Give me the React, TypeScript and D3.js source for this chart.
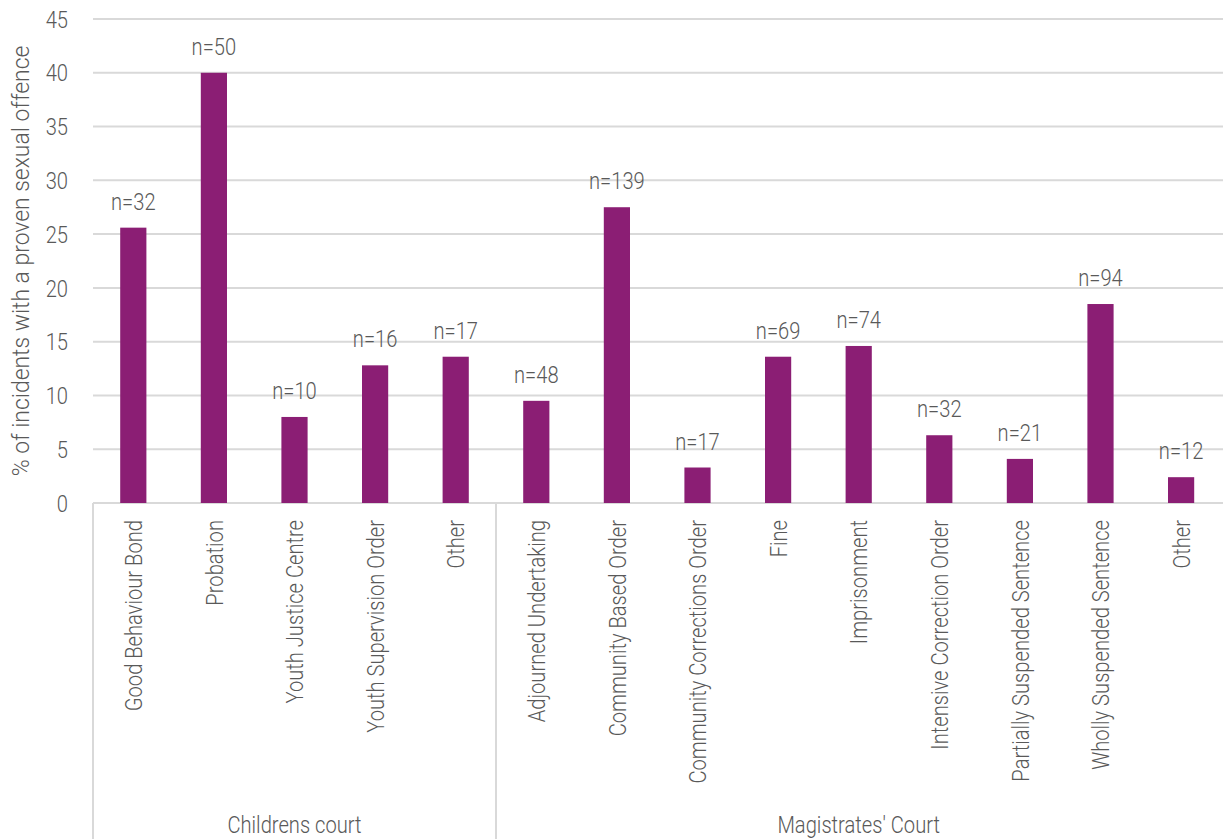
import React from "react";
import * as d3 from "d3";

const groups = ["Childrens court", "Magistrates' Court"];
const categories = [
  "Good Behaviour Bond", "Probation", "Youth Justice Centre", "Youth Supervision Order", "Other",
  "Adjourned Undertaking", "Community Based Order", "Community Corrections Order", "Fine",
  "Imprisonment", "Intensive Correction Order", "Partially Suspended Sentence",
  "Wholly Suspended Sentence", "Other",
];
const categoryGroup = [0, 0, 0, 0, 0, 1, 1, 1, 1, 1, 1, 1, 1, 1];
const values = [25.6, 40, 8, 12.8, 13.6, 9.5, 27.5, 3.3, 13.6, 14.6, 6.3, 4.1, 18.5, 2.4];
const counts = [32, 50, 10, 16, 17, 48, 139, 17, 69, 74, 32, 21, 94, 12];
const yTicks = [0, 5, 10, 15, 20, 25, 30, 35, 40, 45];

const W = 1223, H = 839;
const left = 93, right = 1221.4, top = 19, bottom = 503;
const FONT = "Roboto, sans-serif";
const FS = 24;
const SX = 0.84;
const TXT = "#595959";
const GRID = "#d9d9d9";
const BAR = "#8B1E74";

function T(props: { x: number; y: number; rot?: number; anchor?: string; base?: string; size?: number; sx?: number; children: React.ReactNode }) {
  const { x, y, rot = 0, anchor = "middle", base = "auto", size = FS, sx = SX, children } = props;
  return (
    <text
      transform={`translate(${x},${y}) rotate(${rot}) scale(${sx},1)`}
      textAnchor={anchor}
      dominantBaseline={base}
      fontFamily={FONT}
      fontWeight={300}
      fontSize={size}
      fill={TXT}
    >
      {children}
    </text>
  );
}

export default function App() {
  const idx = categories.map((_, i) => i);
  const x = d3.scaleBand<number>().domain(idx).range([left, right]).paddingInner(0).paddingOuter(0);
  const y = d3.scaleLinear().domain([0, 45]).range([bottom, top]);
  const bw = x.bandwidth() * 0.325;

  const groupBounds = groups.map((_, g) => {
    const members = idx.filter((i) => categoryGroup[i] === g);
    const x0 = x(members[0])!;
    const x1 = x(members[members.length - 1])! + x.bandwidth();
    return [x0, x1];
  });

  return (
    <svg width={W} height={H} style={{ position: "absolute", left: 0, top: 0 }}>
      <rect width={W} height={H} fill="#fff" />
      {yTicks.map((t) => (
        <g key={t}>
          <line x1={left} x2={W} y1={y(t)} y2={y(t)} stroke={GRID} strokeWidth={2} />
          <T x={68} y={y(t)} anchor="end" base="central">{t}</T>
        </g>
      ))}
      <line x1={left} x2={left} y1={bottom} y2={H} stroke={GRID} strokeWidth={2} />
      {groupBounds.slice(0, -1).map((b, g) => (
        <line key={g} x1={b[1]} x2={b[1]} y1={bottom} y2={H} stroke={GRID} strokeWidth={2} />
      ))}
      {idx.map((i) => {
        const cx = x(i)! + x.bandwidth() / 2;
        return (
          <g key={i}>
            <rect x={cx - bw / 2} y={y(values[i])} width={bw} height={y(0) - y(values[i])} fill={BAR} />
            <T x={cx} y={y(values[i]) - 18}>{`n=${counts[i]}`}</T>
            <T x={cx} y={520} rot={-90} anchor="end" base="central">{categories[i]}</T>
          </g>
        );
      })}
      {groups.map((g, gi) => (
        <T key={g} x={(groupBounds[gi][0] + groupBounds[gi][1]) / 2} y={824} base="central">{g}</T>
      ))}
      <T x={21} y={261} rot={-90} base="central" sx={0.955}>% of incidents with a proven sexual offence</T>
    </svg>
  );
}
